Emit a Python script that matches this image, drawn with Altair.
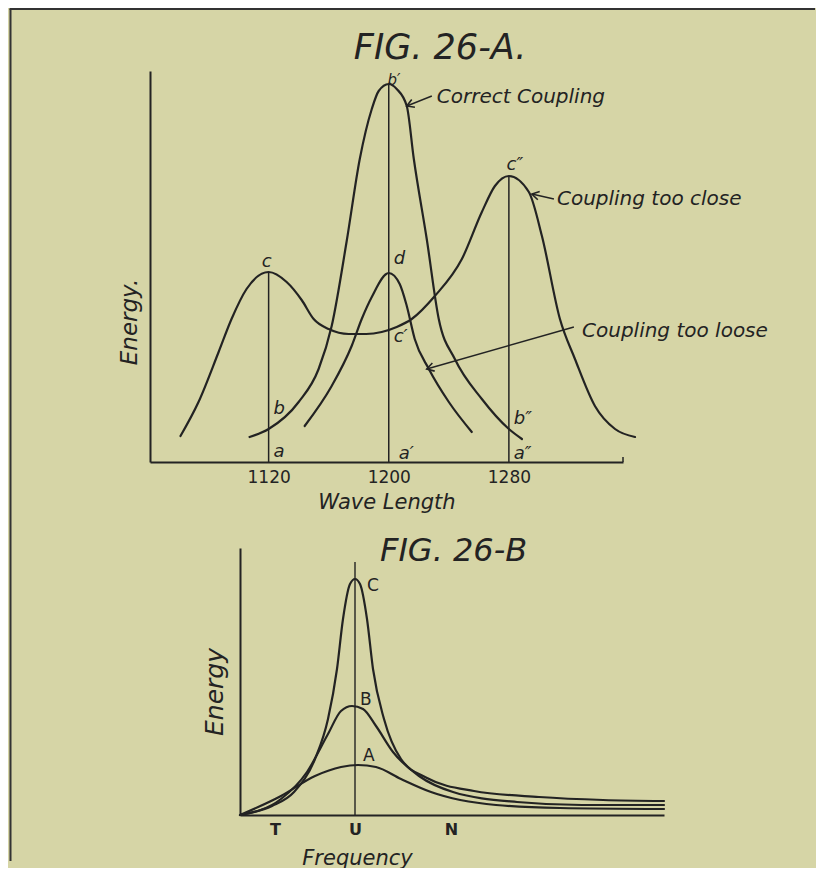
import altair as alt
import pandas as pd

INK = "#232323"
PAPER = "#d6d5a6"
FONT = "DejaVu Sans"

# ---------------- Fig. 26-A (wave length vs energy) ----------------
wave_ticks = [1120, 1200, 1280]

close_wl = [1061.3, 1073.3, 1086.7, 1095.3, 1105.3, 1120, 1132, 1142, 1150, 1160,
            1173.3, 1185, 1195.3, 1205.3, 1215.3, 1230.7, 1248.7, 1262, 1270.7, 1280,
            1293.3, 1302, 1314, 1324, 1337.3, 1350.7, 1364]
close_e = [26, 60, 110, 143, 173, 190, 180, 162, 143, 133,
           128, 128, 130, 135, 143, 166, 203, 250, 276, 286,
           270, 226, 143, 103, 56, 33, 25]

correct_wl = [1107.3, 1120, 1140, 1153.3, 1162, 1172, 1180.7, 1188.7, 1193.3, 1200,
              1205.3, 1212, 1216.7, 1225.3, 1233.3, 1244, 1262, 1280, 1288.7]
correct_e = [25, 33, 60, 93, 136, 221, 303, 353, 371, 378,
             373, 356, 303, 223, 143, 103, 63, 33, 23]

loose_wl = [1144, 1162, 1175.3, 1182, 1188.7, 1200, 1207.3, 1212, 1217.3, 1226.7, 1240, 1255.3]
loose_e = [36, 76, 116, 143, 165, 189, 178, 156, 123, 93, 60, 30]

# vertical ordinates a-c, a'-b', a''-c'' and the end tick of the base line
ord_wl = [1120, 1200, 1280, 1356]
ord_top = [190, 378, 286, 5]

# point letters
pt_text = ["c", "b\u2032", "c\u2033", "d", "c\u2032", "b", "b\u2033", "a", "a\u2032", "a\u2033"]
pt_wl = [1118.7, 1203.5, 1284, 1203.3, 1203.3, 1123.3, 1283.3, 1123.3, 1206.7, 1283.3]
pt_e = [200, 382, 297, 203, 125, 53, 43, 10, 8, 8]
pt_size = [18, 15, 18, 18, 18, 18, 18, 18, 18, 18]
pt_align = ["center", "center", "center", "left", "left", "left", "left", "left", "left", "left"]

# annotations with arrows
note_text = ["Correct Coupling", "Coupling too close", "Coupling too loose"]
note_wl = [1232, 1312, 1328.7]
note_e = [365, 263, 131]
arrow_tail_wl = [1228.7, 1310, 1323.3]
arrow_tail_e = [366, 263, 135]
arrow_tip_wl = [1212, 1295.3, 1225.3]
arrow_tip_e = [356, 268, 93]
arrow_angle = [158, 193, 164]

# ---------------- Fig. 26-B (frequency vs energy) ----------------
freq_ticks = [35, 115, 211]
freq_tick_labels = ["T", "U", "N"]

c_f = [0, 32, 54, 75, 88, 97, 103, 110, 115, 120, 127, 133, 144, 161, 187, 234, 299, 363, 424]
c_e = [0, 9, 23, 56, 96, 146, 196, 231, 236, 231, 196, 146, 96, 56, 37, 24, 18, 15, 14]
b_f = [0, 41, 67, 88, 101, 112, 123, 136, 153, 179, 213, 277, 342, 424]
b_e = [0, 16, 43, 81, 104, 109, 106, 89, 63, 39, 23, 13, 10, 10]
a_f = [0, 41, 75, 101, 118, 136, 161, 191, 256, 320, 424]
a_e = [0, 19, 39, 48, 50, 48, 36, 23, 10, 7, 6]

u_f = [115]
u_top = [253]

b_lbl = ["C", "B", "A"]
b_lbl_f = [127, 120, 123]
b_lbl_e = [229, 115, 59]


def curve(name, xs, ys):
    return pd.DataFrame({"x": xs, "y": ys, "series": name, "i": list(range(len(xs)))})


# ======================= Chart A =======================
curves_a = pd.concat([
    curve("too close", close_wl, close_e),
    curve("correct", correct_wl, correct_e),
    curve("too loose", loose_wl, loose_e),
])

xa = alt.X("x:Q", scale=alt.Scale(domain=[1041, 1356], nice=False, zero=False),
           axis=alt.Axis(values=wave_ticks, format="d", title="Wave Length",
                         labelFontSize=17, labelPadding=7, titleFontSize=21,
                         titleFontStyle="italic", titleFontWeight="normal", titlePadding=6))
ya = alt.Y("y:Q", scale=alt.Scale(domain=[0, 391], nice=False),
           axis=alt.Axis(labels=False, ticks=False, title=None))

lines_a = alt.Chart(curves_a).mark_line(color=INK, strokeWidth=2.2, interpolate="monotone",
                                        strokeCap="round").encode(
    x=xa, y=ya, detail="series:N", order="i:Q")

ords_a = alt.Chart(pd.DataFrame({"x": ord_wl, "y": [0] * len(ord_wl), "y2": ord_top})).mark_rule(
    color=INK, strokeWidth=1.5).encode(x=xa, y=ya, y2="y2:Q")

pts_a = pd.DataFrame({"x": pt_wl, "y": pt_e, "t": pt_text, "al": pt_align, "s": pt_size})
pts_left = alt.Chart(pts_a[pts_a.al == "left"]).mark_text(
    font=FONT, fontStyle="italic", color=INK, align="left", baseline="middle").encode(
    x=xa, y=ya, text="t:N", size=alt.Size("s:Q", scale=None))
pts_center = alt.Chart(pts_a[pts_a.al == "center"]).mark_text(
    font=FONT, fontStyle="italic", color=INK, align="center", baseline="middle").encode(
    x=xa, y=ya, text="t:N", size=alt.Size("s:Q", scale=None))

notes = alt.Chart(pd.DataFrame({"x": note_wl, "y": note_e, "t": note_text})).mark_text(
    font=FONT, fontSize=20, fontStyle="italic", color=INK, align="left", baseline="middle").encode(
    x=xa, y=ya, text="t:N")

arrows_df = pd.DataFrame({"x": arrow_tail_wl, "y": arrow_tail_e,
                          "x2": arrow_tip_wl, "y2": arrow_tip_e, "ang": arrow_angle})
arrow_lines = alt.Chart(arrows_df).mark_rule(color=INK, strokeWidth=1.4).encode(
    x=xa, y=ya, x2="x2:Q", y2="y2:Q")
arrow_heads = alt.Chart(arrows_df).mark_point(
    shape="M-1,-0.6L0,0L-1,0.6", filled=False, color=INK, strokeWidth=1.6, size=200, opacity=1).encode(
    x=alt.X("x2:Q", scale=alt.Scale(domain=[1041, 1356], nice=False, zero=False)),
    y=alt.Y("y2:Q", scale=alt.Scale(domain=[0, 391], nice=False)),
    angle=alt.Angle("ang:Q", scale=None))

title_a = alt.Chart(pd.DataFrame({"x": [1176.7], "y": [403], "t": ["FIG. 26-A."]})).mark_text(
    font=FONT, fontSize=35, fontStyle="italic", color=INK, align="left", baseline="alphabetic").encode(
    x=xa, y=ya, text="t:N")

ylab_a = alt.Chart(pd.DataFrame({"x": [1028], "y": [140], "t": ["Energy."]})).mark_text(
    font=FONT, fontSize=23, fontStyle="italic", color=INK, align="center", baseline="middle",
    angle=270).encode(x=xa, y=ya, text="t:N")

# page frame (decoration)
frame_left = alt.Chart(pd.DataFrame({"k": [0]})).mark_rule(color="#333", strokeWidth=2).encode(
    x=alt.value(-139.5), y=alt.value(-62), y2=alt.value(790))
frame_top = alt.Chart(pd.DataFrame({"k": [0]})).mark_rule(color="#333", strokeWidth=2).encode(
    x=alt.value(-140.5), x2=alt.value(665), y=alt.value(-62))

chart_a = alt.layer(frame_left, frame_top, ords_a, lines_a, arrow_lines, arrow_heads,
                    pts_left, pts_center, notes, title_a, ylab_a).properties(width=473, height=391)

# ======================= Chart B =======================
curves_b = pd.concat([
    curve("C", c_f, c_e),
    curve("B", b_f, b_e),
    curve("A", a_f, a_e),
])

label_expr = " : ".join(
    [f"datum.value == {v} ? '{t}'" for v, t in zip(freq_ticks[:-1], freq_tick_labels[:-1])]
    + [f"'{freq_tick_labels[-1]}'"])

xb = alt.X("x:Q", scale=alt.Scale(domain=[0, 424], nice=False),
           axis=alt.Axis(values=freq_ticks, labelExpr=label_expr, title="Frequency",
                         labelFontSize=16, labelFontWeight="bold", labelPadding=6,
                         titleFontSize=21, titleFontStyle="italic", titleFontWeight="normal",
                         titleX=117, titleY=49, titleAlign="center", titleBaseline="alphabetic"))
yb = alt.Y("y:Q", scale=alt.Scale(domain=[0, 267], nice=False),
           axis=alt.Axis(labels=False, ticks=False, title=None))

lines_b = alt.Chart(curves_b).mark_line(color=INK, strokeWidth=2.2, interpolate="monotone",
                                        strokeCap="round").encode(
    x=xb, y=yb, detail="series:N", order="i:Q")

u_line = alt.Chart(pd.DataFrame({"x": u_f, "y": [0], "y2": u_top})).mark_rule(
    color=INK, strokeWidth=1.4).encode(x=xb, y=yb, y2="y2:Q")

lbl_b = alt.Chart(pd.DataFrame({"x": b_lbl_f, "y": b_lbl_e, "t": b_lbl})).mark_text(
    font=FONT, fontSize=17, color=INK, align="left", baseline="middle").encode(
    x=xb, y=yb, text="t:N")

title_b = alt.Chart(pd.DataFrame({"x": [140], "y": [254], "t": ["FIG. 26-B"]})).mark_text(
    font=FONT, fontSize=32, fontStyle="italic", color=INK, align="left", baseline="alphabetic").encode(
    x=xb, y=yb, text="t:N")

ylab_b = alt.Chart(pd.DataFrame({"x": [-25], "y": [123], "t": ["Energy"]})).mark_text(
    font=FONT, fontSize=25, fontStyle="italic", color=INK, align="center", baseline="middle",
    angle=270).encode(x=xb, y=yb, text="t:N")

chart_b = alt.layer(u_line, lines_b, lbl_b, title_b, ylab_b).properties(width=424, height=267)

spacer = alt.Chart(pd.DataFrame({"k": [0]})).mark_point(opacity=0).encode(
    x=alt.value(0), y=alt.value(0)).properties(width=80, height=267)

bottom = alt.hconcat(spacer, chart_b, spacing=10, bounds="flush")

chart = alt.vconcat(chart_a, bottom, spacing=86, bounds="flush").properties(
    background=PAPER, padding=0
).configure_view(stroke=None).configure_axis(
    domainColor=INK, domainWidth=2, grid=False, ticks=False,
    labelColor=INK, titleColor=INK, labelFont=FONT, titleFont=FONT
)

chart.save("out.html", embed_options={"renderer": "svg", "actions": False})
